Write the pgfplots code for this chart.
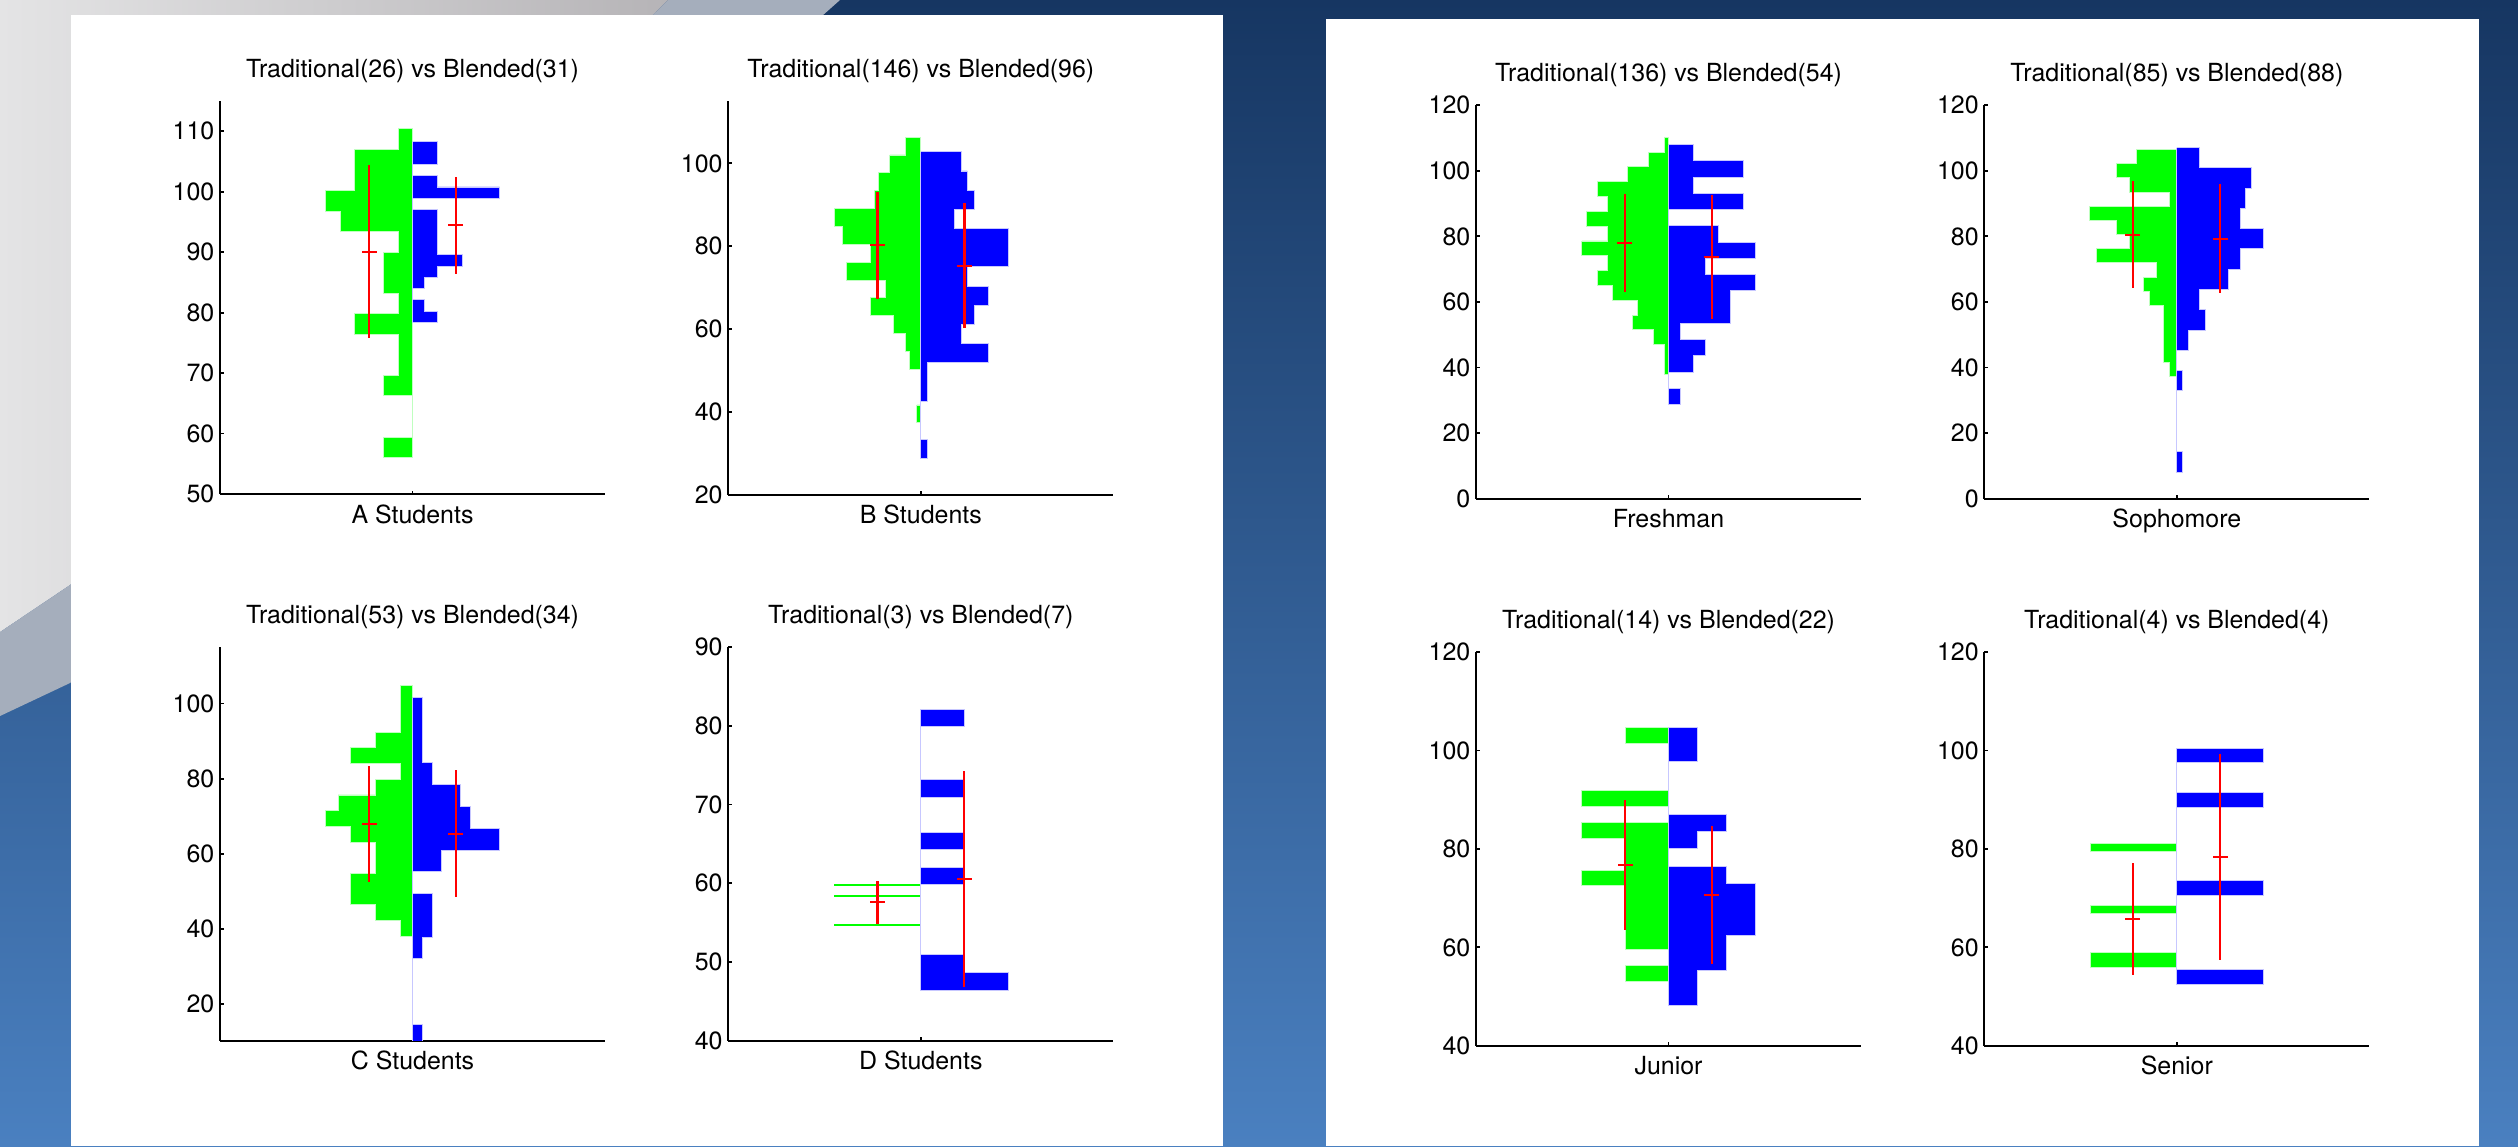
\documentclass[border=0pt]{standalone}
\usepackage{fontspec}
\setmainfont{TeX Gyre Heros}
\usepackage{pgfplots}
\pgfplotsset{compat=1.18}
\definecolor{mg}{rgb}{0,1,0}
\definecolor{mb}{rgb}{0,0,1}
\definecolor{mgl}{rgb}{0.75,1,0.75}
\definecolor{mbl}{rgb}{0.78,0.78,1}
\definecolor{mr}{rgb}{1,0,0}
\definecolor{navy}{RGB}{22,54,98}
\definecolor{lblue}{RGB}{74,128,192}
\definecolor{gray1}{RGB}{228,228,229}
\definecolor{gray2}{RGB}{182,180,183}
\definecolor{band}{RGB}{165,174,188}
\newcommand\fs{\fontsize{7.1pt}{8.5pt}\selectfont}
\pgfplotsset{
  vp/.style={
    scale only axis, width=38.5mm, height=39.35mm, anchor=south west,
    xmin=-577.5, xmax=577.5,
    axis x line*=bottom, axis y line*=left,
    axis line style={-, line width=0.5pt},
    every outer x axis line/.append style={-},
    every outer y axis line/.append style={-},
    tick align=inside, major tick length=0.35mm,
    tick style={line width=0.5pt, black},
    minor tick num=0,
    xtick={0}, xticklabels={},
    tick label style={font=\fs},
    yticklabel style={anchor=east, inner sep=0pt, xshift=-0.5mm},
    title style={font=\fs, at={(axis description cs:0.5,1)}, anchor=base, yshift=0.24mm, inner sep=0pt},
    xlabel style={font=\fs, at={(axis description cs:0.5,0)}, anchor=base, yshift=-2.9mm, inner sep=0pt},
    /pgf/number format/assume math mode=true,
  },
  gpoly/.style={fill=mg, draw=mgl, line width=0.25pt, const plot mark right, mark=none},
  bpoly/.style={fill=mb, draw=mbl, line width=0.25pt, const plot mark right, mark=none},
  rbar/.style={mr, line width=0.6pt, mark=-, mark size=2.1pt, mark options={solid, line width=0.6pt, mr},
    error bars/.cd, y dir=both, y explicit, error mark=none, error bar style={mr, line width=0.6pt}},
}
\begin{document}
\begin{tikzpicture}
\useasboundingbox (0,0) rectangle (251.8mm,-114.6mm);
\shade[top color=navy, bottom color=lblue] (0,0) rectangle (251.8mm,-114.6mm);
\begin{scope}[x=0.1mm,y=-0.1mm]
\shade[left color=gray1, right color=gray2] (0,0) -- (668,0) -- (70,585) -- (0,632) -- cycle;
\fill[band] (668,0) -- (840,0) -- (70,683) -- (0,716) -- (0,632) -- (70,585) -- cycle;
\fill[white] (71,15) rectangle (1223,1146);
\fill[white] (1326,19) rectangle (2479,1146);
\end{scope}

% ---------- A Students ----------
\begin{axis}[vp, at={(22mm,-49.4mm)}, ymin=50, ymax=115.1, ytick={50,60,...,110},
  title={Traditional(26) vs Blended(31)}, xlabel={A Students}]
\addplot[gpoly] table {
0 110.43
-43 110.43
-173 107.03
-173 103.63
-260 100.23
-216 96.83
-43 93.43
-86 90.03
-86 86.63
-43 83.23
-173 79.83
-43 76.43
-43 73.03
-86 69.63
0 66.23
0 62.83
-86 59.43
0 56.03
0 110.43
};
\addplot[bpoly] table {
0 108.27
75 108.27
75 106.40
0 104.53
75 102.67
261 100.80
0 98.93
75 97.07
75 95.20
75 93.33
75 91.47
149 89.60
75 87.73
37 85.87
0 84.00
37 82.13
75 80.26
0 78.39
0 108.27
};
\addplot[rbar] coordinates {(-130,90.07) +- (0,14.28)};
\addplot[rbar] coordinates {(130,94.44) +- (0,8.07)};
\end{axis}

% ---------- B Students ----------
\begin{axis}[vp, at={(72.83mm,-49.47mm)}, ymin=20, ymax=115, ytick={20,40,...,100},
  title={Traditional(146) vs Blended(96)}, xlabel={B Students}]
\addplot[gpoly] table {
0 106.33
-45 106.33
-93 102.02
-128 97.71
-140 93.40
-260 89.09
-235 84.77
-152 80.46
-224 76.15
-105 71.84
-152 67.53
-82 63.22
-45 58.91
-34 54.60
0 50.29
0 45.98
-12 41.67
0 37.36
0 106.33
};
\addplot[bpoly] table {
0 102.80
121 102.80
140 98.17
161 93.53
102 88.90
262 84.27
262 79.64
140 75.00
202 70.37
161 65.74
121 61.11
202 56.47
20 51.84
20 47.21
0 42.58
0 37.94
20 33.31
0 28.68
0 102.80
};
\addplot[rbar] coordinates {(-130,80.21) +- (0,12.86)};
\addplot[rbar] coordinates {(131,75.31) +- (0,15.0)};
\end{axis}

% ---------- C Students ----------
\begin{axis}[vp, at={(22mm,-104.07mm)}, ymin=10.2, ymax=115, ytick={20,40,...,100},
  title={Traditional(53) vs Blended(34)}, xlabel={C Students}]
\addplot[gpoly] table {
0 104.89
-36 104.89
-36 100.71
-36 96.53
-110 92.36
-186 88.18
-36 84.00
-110 79.82
-223 75.65
-260 71.47
-186 67.29
-110 63.11
-110 58.93
-186 54.76
-186 50.58
-110 46.40
-36 42.22
0 38.04
0 104.89
};
\addplot[bpoly] table {
0 101.6
29 101.6
29 95.8
29 90.0
59 84.2
145 78.4
174 72.6
261 66.8
87 61.0
0 55.2
59 49.4
59 43.6
29 37.8
0 32.0
0 26.2
0 20.4
29 14.6
0 8.8
0 101.6
};
\addplot[rbar] coordinates {(-130,68.0) +- (0,15.47)};
\addplot[rbar] coordinates {(130,65.33) +- (0,16.9)};
\end{axis}

% ---------- D Students ----------
\begin{axis}[vp, at={(72.83mm,-104.07mm)}, ymin=40, ymax=90, ytick={40,50,...,90},
  title={Traditional(3) vs Blended(7)}, xlabel={D Students}]
\addplot[mg, line width=0.57pt] coordinates {(-260,59.79) (0,59.79)};
\addplot[mg, line width=0.57pt] coordinates {(-260,58.43) (0,58.43)};
\addplot[mg, line width=0.57pt] coordinates {(-260,54.70) (0,54.70)};
\addplot[bpoly] table {
0 82.12
131 82.12
0 79.89
0 77.66
0 75.43
128 73.20
0 70.97
0 68.74
128 66.51
0 64.28
128 62.05
0 59.82
0 57.59
0 55.36
0 53.13
128 50.90
262 48.67
0 46.44
0 82.12
};
\addplot[rbar] coordinates {(-130,57.58) +- (0,2.75)};
\addplot[rbar] coordinates {(130,60.55) +- (0,13.7)};
\end{axis}

% ---------- Freshman ----------
\begin{axis}[vp, at={(147.6mm,-49.87mm)}, ymin=0, ymax=120, ytick={0,20,...,120},
  title={Traditional(136) vs Blended(54)}, xlabel={Freshman}]
\addplot[gpoly] table {
0 110.24
-13 110.24
-61 105.72
-122 101.20
-214 96.68
-183 92.16
-245 87.64
-183 83.12
-260 78.60
-183 74.08
-214 69.56
-168 65.04
-92 60.52
-107 56.00
-46 51.48
-13 46.96
-13 42.45
0 37.93
0 110.24
};
\addplot[bpoly] table {
0 108.0
74 108.0
224 103.04
74 98.08
224 93.13
0 88.17
149 83.21
261 78.25
112 73.30
261 68.34
186 63.38
186 58.42
37 53.47
112 48.51
74 43.55
0 38.59
37 33.64
0 28.68
0 108.0
};
\addplot[rbar] coordinates {(-131,78.0) +- (0,15.0)};
\addplot[rbar] coordinates {(130,73.63) +- (0,18.9)};
\end{axis}

% ---------- Sophomore ----------
\begin{axis}[vp, at={(198.43mm,-49.87mm)}, ymin=0, ymax=120, ytick={0,20,...,120},
  title={Traditional(85) vs Blended(88)}, xlabel={Sophomore}]
\addplot[gpoly] table {
0 106.48
-121 106.48
-181 102.16
-141 97.84
-21 93.51
-262 89.19
-181 84.87
-141 80.55
-242 76.22
-61 71.90
-101 67.58
-81 63.26
-41 58.93
-41 54.61
-41 50.29
-41 45.97
-21 41.64
0 37.32
0 106.48
};
\addplot[bpoly] table {
0 107.09
68 107.09
225 100.91
207 94.72
190 88.54
260 82.35
190 76.17
155 69.99
68 63.80
86 57.62
34 51.43
0 45.25
17 39.06
0 32.88
0 26.70
0 20.51
17 14.33
0 8.14
0 107.09
};
\addplot[rbar] coordinates {(-132,80.54) +- (0,16.2)};
\addplot[rbar] coordinates {(130,79.22) +- (0,16.6)};
\end{axis}

% ---------- Junior ----------
\begin{axis}[vp, at={(147.6mm,-104.57mm)}, ymin=40, ymax=120, ytick={40,60,...,120},
  title={Traditional(14) vs Blended(22)}, xlabel={Junior}]
\addplot[gpoly] table {
0 104.77
-130 104.77
0 101.54
0 98.31
0 95.09
-260 91.86
0 88.63
-260 85.40
-130 82.18
-130 78.95
-260 75.72
-130 72.49
-130 69.27
-130 66.04
-130 62.81
0 59.58
-130 56.35
0 53.12
0 104.77
};
\addplot[bpoly] table {
0 104.77
87 104.77
87 101.24
0 97.71
0 94.17
0 90.64
174 87.11
87 83.58
0 80.04
174 76.51
261 72.98
261 69.45
261 65.92
174 62.38
174 58.85
87 55.32
87 51.79
0 48.25
0 104.77
};
\addplot[rbar] coordinates {(-130,76.71) +- (0,13.2)};
\addplot[rbar] coordinates {(130,70.7) +- (0,14.0)};
\end{axis}

% ---------- Senior ----------
\begin{axis}[vp, at={(198.43mm,-104.57mm)}, ymin=40, ymax=120, ytick={40,60,...,120},
  title={Traditional(4) vs Blended(4)}, xlabel={Senior}]
\addplot[gpoly] table {
0 81.11
-260 81.11
0 79.53
0 77.96
0 76.38
0 74.81
0 73.23
0 71.65
0 70.08
-260 68.50
0 66.93
0 65.35
0 63.77
0 62.20
0 60.62
-260 59.04
-260 57.47
0 55.89
0 81.11
};
\addplot[bpoly] table {
0 100.51
260 100.51
0 97.51
0 94.51
260 91.51
0 88.51
0 85.51
0 82.51
0 79.51
0 76.51
260 73.51
0 70.51
0 67.51
0 64.51
0 61.51
0 58.51
260 55.51
0 52.51
0 100.51
};
\addplot[rbar] coordinates {(-132,65.69) +- (0,11.4)};
\addplot[rbar] coordinates {(130,78.34) +- (0,20.9)};
\end{axis}
\end{tikzpicture}
\end{document}
